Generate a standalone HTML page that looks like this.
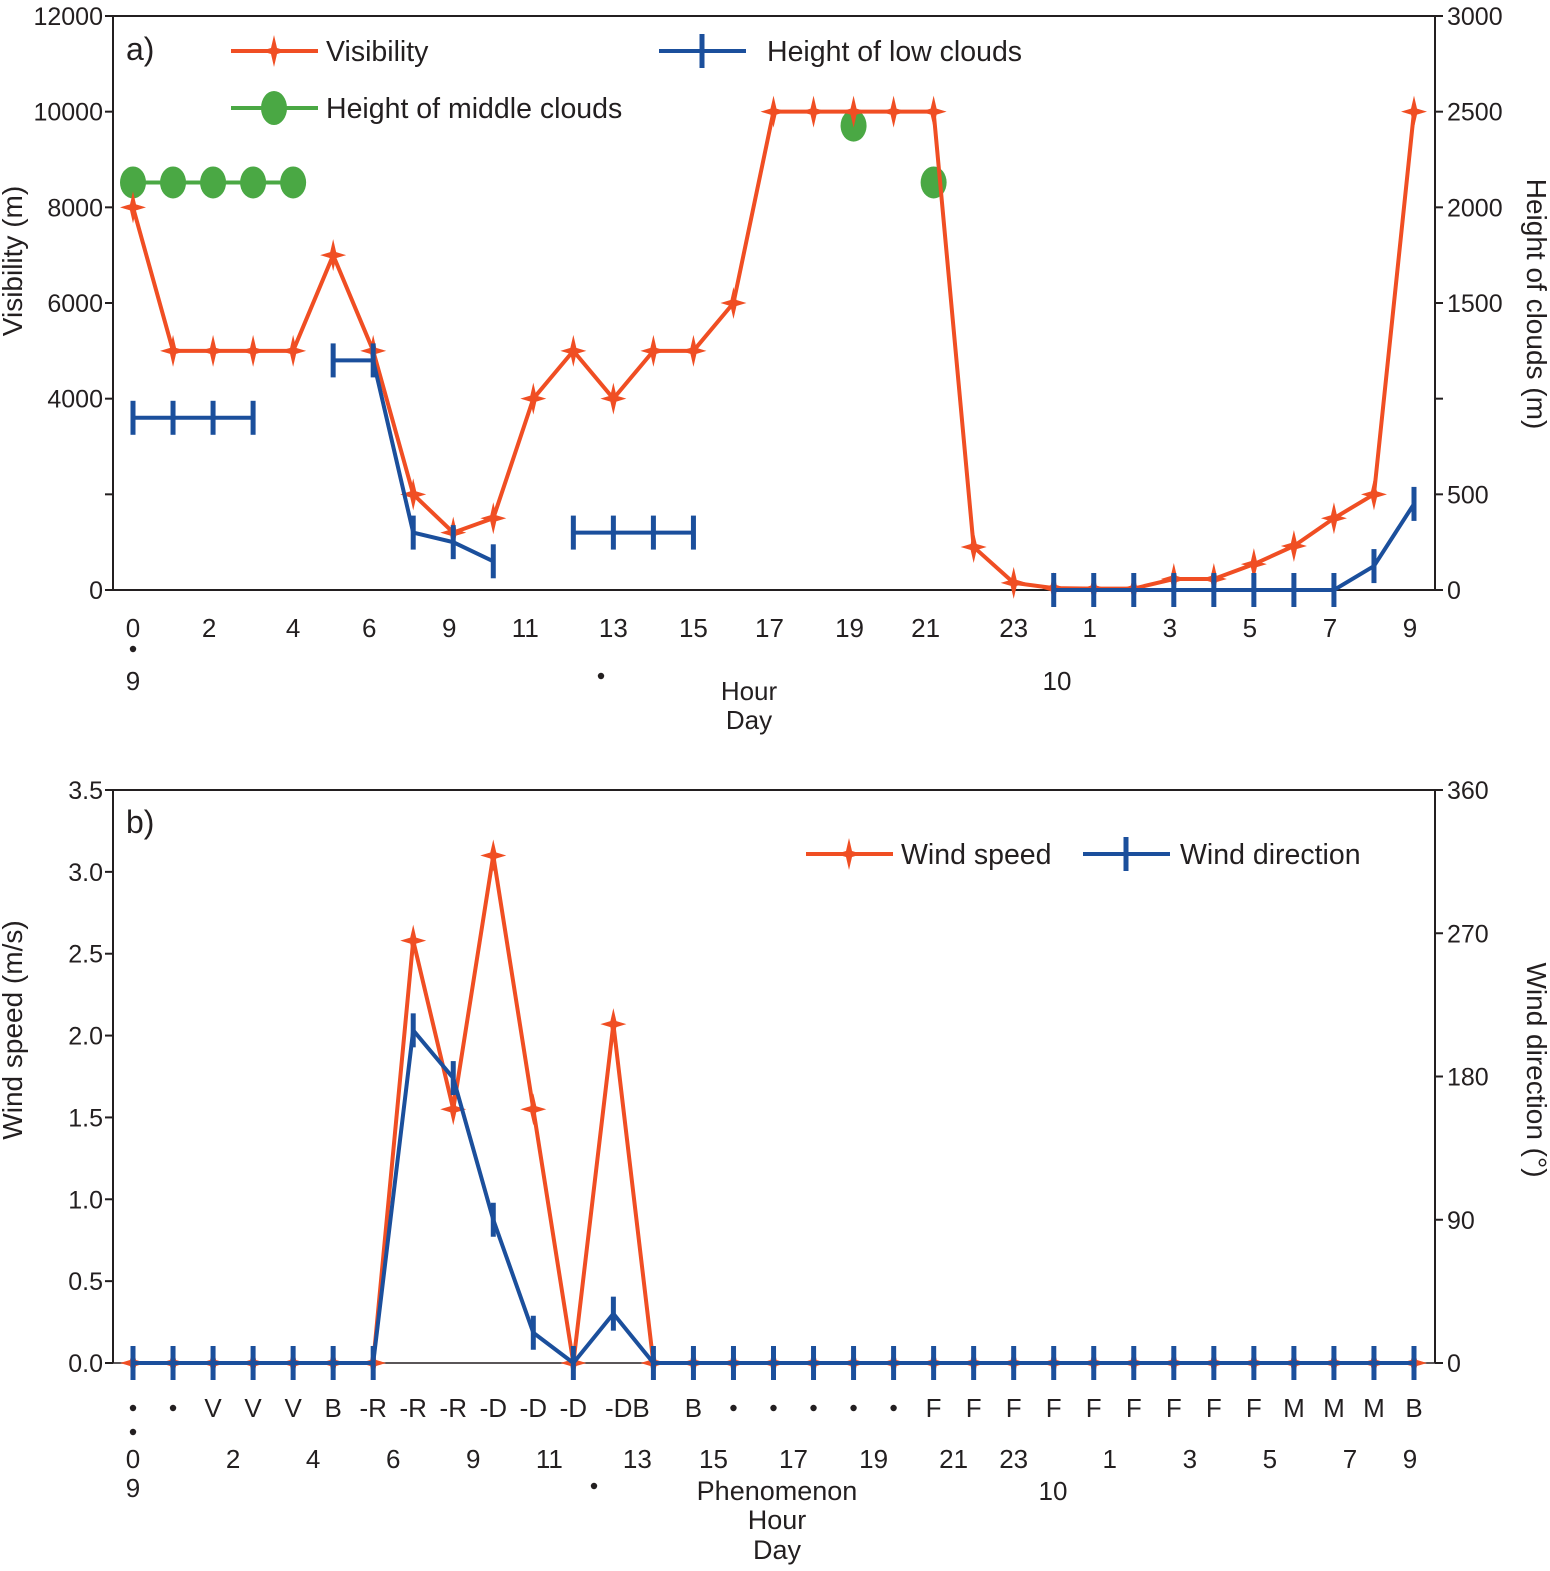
<!DOCTYPE html>
<html><head><meta charset="utf-8"><style>
html,body{margin:0;padding:0;background:#fff}
svg text{font-family:"Liberation Sans",Arial,sans-serif;fill:#231f20}
</style></head><body>
<svg id="chart" width="1550" height="1566" viewBox="0 0 1550 1566" xmlns="http://www.w3.org/2000/svg">
</svg>
<script>
// ---- data ----
const visibility=[8000,5000,5000,5000,5000,7000,5000,2000,1200,1500,4000,5000,4000,5000,5000,6000,10000,10000,10000,10000,10000,900,150,40,30,30,230,230,540,920,1500,2000,10000];
const lowClouds=[900,900,900,900,null,1200,1200,300,250,150,null,300,300,300,300,null,null,null,null,null,null,null,null,0,0,0,0,0,0,0,0,125,450];
const midClouds=[2130,2130,2130,2130,2130,null,null,null,null,null,null,null,null,null,null,null,null,null,2427,null,2130,null,null,null,null,null,null,null,null,null,null,null,null];
const windSpeed=[0,0,0,0,0,0,0,2.58,1.55,3.1,1.55,0,2.07,0,0,0,0,0,0,0,0,0,0,0,0,0,0,0,0,0,0,0,0];
const windDir=[0,0,0,0,0,0,0,209,179,90,19,0,31,0,0,0,0,0,0,0,0,0,0,0,0,0,0,0,0,0,0,0,0];
const phenomena=["•","•","V","V","V","B","-R","-R","-R","-D","-D","-D","-DB","","B","•","•","•","•","•","F","F","F","F","F","F","F","F","F","M","M","M","B"];
const hourLabelsA=["0","2","4","6","9","11","13","15","17","19","21","23","1","3","5","7","9"];
const hourLabelsB=["0","2","4","6","9","11","13","15","17","19","21","23","1","3","5","7","9"];
const visTicks=[0,2000,4000,6000,8000,10000,12000];
const cloudTicks=[0,500,1000,1500,2000,2500,3000];
const speedTicks=[0,0.5,1,1.5,2,2.5,3,3.5];
const dirTicks=[0,90,180,270,360];

const svg=document.getElementById('chart');
const NS='http://www.w3.org/2000/svg';
function el(tag,attrs,parent){const e=document.createElementNS(NS,tag);for(const k in attrs)e.setAttribute(k,attrs[k]);(parent||svg).appendChild(e);return e;}
function txt(x,y,s,size,anchor,parent){const t=el('text',{x:x,y:y,'font-size':size,'text-anchor':anchor||'middle'},parent);t.textContent=s;return t;}
function dot(x,y,g){const c=el('circle',{cx:x,cy:y,r:3.2,fill:'#231f20'},g);}

const X0=133,X1=1414,L=113,R=1435;
const xi=i=>X0+(X1-X0)*i/32;
const orange='#f04e23',blue='#1b4f9c',green='#4aa844';
function star(x,y,g){const p=el('path',{d:`M${x},${y-16}L${x+3},${y-3}L${x+13},${y}L${x+3},${y+3}L${x},${y+16}L${x-3},${y+3}L${x-13},${y}L${x-3},${y-3}Z`,fill:orange},g);}
function bar(x,y,g){const l=el('line',{x1:x,y1:y-17,x2:x,y2:y+17,stroke:blue,'stroke-width':5},g);}
function polyBreaks(arr,f,color,g){let seg=[];const segs=[];arr.forEach((v,i)=>{if(v===null){if(seg.length)segs.push(seg);seg=[];}else seg.push([xi(i),f(v)]);});if(seg.length)segs.push(seg);segs.forEach(s=>{if(s.length>1){const p=el('polyline',{points:s.map(q=>q.join(',')).join(' '),fill:'none',stroke:color,'stroke-width':4,'stroke-linejoin':'miter'},g);}});}

// ---------- Panel a ----------
const ga=el('g',{});
const aT=16,aB=590;
const yVis=v=>aB-(aB-aT)*v/12000;
const yCl=v=>aB-(aB-aT)*v/3000;
el('rect',{x:L,y:aT,width:R-L,height:aB-aT,fill:'none',stroke:'#231f20','stroke-width':2},ga);
visTicks.forEach(v=>{el('line',{x1:L-8,y1:yVis(v),x2:L,y2:yVis(v),stroke:'#231f20','stroke-width':2},ga);if(v!==2000){const t=txt(L-10,yVis(v)+9,String(v),25,'end',ga);}});
cloudTicks.forEach(v=>{el('line',{x1:R,y1:yCl(v),x2:R+8,y2:yCl(v),stroke:'#231f20','stroke-width':2},ga);if(v!==1000){const t=txt(R+12,yCl(v)+9,String(v),25,'start',ga);}});
const hrIdxA=[0,1.9,4,5.9,7.9,9.8,12,14,15.9,17.9,19.8,22,23.9,25.9,27.9,29.9,31.9];
hourLabelsA.forEach((s,k)=>{const t=txt(xi(hrIdxA[k]),637,s,26,'middle',ga);});
dot(133,649,ga);txt(133,690,'9',26,'middle',ga);dot(601,676,ga);txt(1057,690,'10',26,'middle',ga);
let t1=txt(749,700,'Hour',26,'middle',ga);
let t2=txt(749,729,'Day',26,'middle',ga);
let ya=txt(0,0,'Visibility (m)',28,'middle',ga);ya.setAttribute('transform','translate(22,261) rotate(-90)');
let yb=txt(0,0,'Height of clouds (m)',28,'middle',ga);yb.setAttribute('transform','translate(1527,304) rotate(90)');
let pa=txt(126,60,'a)',32,'start',ga);
// series
polyBreaks(midClouds,yCl,green,ga);
midClouds.forEach((v,i)=>{if(v!==null){const e=el('ellipse',{cx:xi(i),cy:yCl(v),rx:13,ry:16,fill:green},ga);}});
polyBreaks(visibility,yVis,orange,ga);
visibility.forEach((v,i)=>star(xi(i),yVis(v),ga));
polyBreaks(lowClouds,yCl,blue,ga);
lowClouds.forEach((v,i)=>{if(v!==null)bar(xi(i),yCl(v),ga);});
// legend a
const lgA=el('g',{},ga);
el('line',{x1:231,y1:51,x2:318,y2:51,stroke:orange,'stroke-width':4},lgA);star(274,51,lgA);txt(326,61,'Visibility',28.5,'start',lgA);
el('line',{x1:231,y1:108,x2:318,y2:108,stroke:green,'stroke-width':4},lgA);el('ellipse',{cx:274,cy:108,rx:13,ry:17,fill:green},lgA);txt(326,118,'Height of middle clouds',28.5,'start',lgA);
el('line',{x1:659,y1:51,x2:746,y2:51,stroke:blue,'stroke-width':4},lgA);bar(702,51,lgA);txt(767,61,'Height of low clouds',28.5,'start',lgA);

// ---------- Panel b ----------
const gb=el('g',{});
const bT=790,bB=1363;
const ySp=v=>bB-(bB-bT)*v/3.5;
const yDir=v=>bB-(bB-bT)*v/360;
el('polyline',{points:`${L},${bB} ${L},${bT} ${R},${bT} ${R},${bB}`,fill:'none',stroke:'#231f20','stroke-width':2},gb);
el('line',{x1:L,y1:bB,x2:R,y2:bB,stroke:'#231f20','stroke-width':1.5},gb);
speedTicks.forEach(v=>{el('line',{x1:L-8,y1:ySp(v),x2:L,y2:ySp(v),stroke:'#231f20','stroke-width':2},gb);const t=txt(L-10,ySp(v)+9,v.toFixed(1),25,'end',gb);});
dirTicks.forEach(v=>{el('line',{x1:R,y1:yDir(v),x2:R+8,y2:yDir(v),stroke:'#231f20','stroke-width':2},gb);const t=txt(R+12,yDir(v)+9,String(v),25,'start',gb);});
phenomena.forEach((s,i)=>{const off=(i===12)?14:0;if(s==="•"){dot(xi(i),1408,gb);}else{const t=txt(xi(i)+off,1417,s,26,'middle',gb);}});
const hrIdxB=[0,2.5,4.5,6.5,8.5,10.4,12.6,14.5,16.5,18.5,20.5,22,24.4,26.4,28.4,30.4,31.9];
hourLabelsB.forEach((s,k)=>{const t=txt(xi(hrIdxB[k]),1468,s,26,'middle',gb);});
dot(133,1432,gb);txt(133,1497,'9',26,'middle',gb);dot(594,1486,gb);txt(1053,1500,'10',26,'middle',gb);
let b1=txt(777,1500,'Phenomenon',27,'middle',gb);
let b2=txt(777,1529,'Hour',27,'middle',gb);
let b3=txt(777,1559,'Day',27,'middle',gb);
let yc=txt(0,0,'Wind speed (m/s)',28,'middle',gb);yc.setAttribute('transform','translate(22,1030) rotate(-90)');
let yd=txt(0,0,'Wind direction (°)',28,'middle',gb);yd.setAttribute('transform','translate(1527,1070) rotate(90)');
let pb=txt(126,833,'b)',32,'start',gb);
polyBreaks(windSpeed,ySp,orange,gb);
windSpeed.forEach((v,i)=>star(xi(i),ySp(v),gb));
polyBreaks(windDir,yDir,blue,gb);
windDir.forEach((v,i)=>bar(xi(i),yDir(v),gb));
const lgB=el('g',{},gb);
el('line',{x1:806,y1:854,x2:893,y2:854,stroke:orange,'stroke-width':4},lgB);star(849,854,lgB);txt(901,864,'Wind speed',28.5,'start',lgB);
el('line',{x1:1083,y1:854,x2:1170,y2:854,stroke:blue,'stroke-width':4},lgB);bar(1126,854,lgB);txt(1180,864,'Wind direction',28.5,'start',lgB);
</script>
</body></html>
